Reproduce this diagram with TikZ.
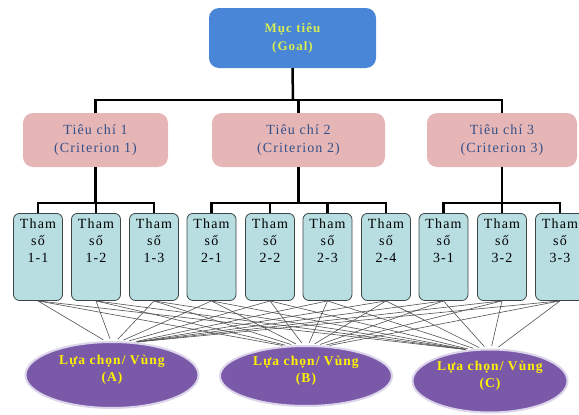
\documentclass[tikz,border=0pt]{standalone}
\usepackage{fontspec}
\setmainfont[LetterSpace=8]{Liberation Serif}
\usetikzlibrary{shapes.geometric}

\definecolor{goalfill}{HTML}{4A86D8}
\definecolor{goaltext}{HTML}{D6EC52}
\definecolor{critfill}{HTML}{E6B6B6}
\definecolor{crittext}{HTML}{34508A}
\definecolor{parfill}{HTML}{B8DEE2}
\definecolor{parline}{HTML}{3C4646}
\definecolor{optfill}{HTML}{7A5AA8}
\definecolor{optline}{HTML}{DCD4EA}
\definecolor{opttext}{HTML}{FFF200}
\definecolor{linkgray}{HTML}{505050}

% parameter label: three lines, with extra depth so the text sits at the top
\newcommand{\partext}[1]{Tham\\số\\#1\rule[-32.6pt]{0pt}{0pt}}

\begin{document}
\begin{tikzpicture}[x=1pt,y=-1pt,
  goalbox/.style={fill=goalfill,rounded corners=10pt,minimum width=167pt,
    minimum height=60pt,align=center,text=goaltext,
    font=\fontsize{13}{18}\selectfont\bfseries},
  critbox/.style={fill=critfill,rounded corners=10pt,minimum height=54pt,
    align=center,text=crittext,font=\fontsize{14}{18}\selectfont},
  parbox/.style={fill=parfill,draw=parline,line width=0.8pt,rounded corners=6pt,
    minimum width=49pt,inner xsep=1pt,inner ysep=5.4pt,anchor=north,
    align=center,font=\fontsize{14}{17}\selectfont},
  optbox/.style={ellipse,fill=optfill,draw=optline,line width=2pt,inner sep=0pt,
    align=center,text=opttext,font=\fontsize{13.5}{17}\selectfont\bfseries},
  tree/.style={line width=2.5pt,black},
  link/.style={linkgray,line width=0.6pt,shorten >=2.5pt}]

\useasboundingbox (0,0) rectangle (579,415);

% goal
\node[goalbox] (goal) at (292.5,38) {Mục tiêu\\(Goal)};

% criteria
\node[critbox,minimum width=145pt] (c1) at (95.5,140) {Tiêu chí 1\\(Criterion 1)};
\node[critbox,minimum width=173pt] (c2) at (298.5,140) {Tiêu chí 2\\(Criterion 2)};
\node[critbox,minimum width=150pt] (c3) at (502,140) {Tiêu chí 3\\(Criterion 3)};

% parameters
\node[parbox] (p11) at (38,213)  {\partext{1-1}};
\node[parbox] (p12) at (96,213)  {\partext{1-2}};
\node[parbox] (p13) at (154,213) {\partext{1-3}};
\node[parbox] (p21) at (211.5,213) {\partext{2-1}};
\node[parbox] (p22) at (270,213) {\partext{2-2}};
\node[parbox] (p23) at (327.5,213) {\partext{2-3}};
\node[parbox] (p24) at (386,213) {\partext{2-4}};
\node[parbox] (p31) at (443.5,213) {\partext{3-1}};
\node[parbox] (p32) at (502,213) {\partext{3-2}};
\node[parbox] (p33) at (560,213) {\partext{3-3}};

% options
\node[optbox,minimum width=173pt,minimum height=66pt] (ea) at (112,375)
  {Lựa chọn/ Vùng\\(A)\rule[-14pt]{0pt}{0pt}};
\node[optbox,minimum width=172pt,minimum height=60pt] (eb) at (306,376)
  {Lựa chọn/ Vùng\\(B)\rule[-14pt]{0pt}{0pt}};
\node[optbox,minimum width=155pt,minimum height=63pt] (ec) at (490,381)
  {Lựa chọn/ Vùng\\(C)\rule[-14pt]{0pt}{0pt}};

% goal to criteria
\coordinate (gbar) at (293,100);
\draw[tree] (goal.south) -- (gbar);
\draw[tree] (c1.north) |- (gbar) -| (c3.north);
\draw[tree] (c2.north) -- (c2.north |- gbar);

% criteria to parameters
\path (c1.south) ++(0,36) coordinate (b1);
\path (c2.south) ++(0,36) coordinate (b2);
\path (c3.south) ++(0,36) coordinate (b3);
\draw[tree] (c1.south) -- (b1);
\draw[tree] (p11.north) |- (b1) -| (p13.north);
\draw[tree] (p12.north) -- (p12.north |- b1);
\draw[tree] (c2.south) -- (b2);
\draw[tree] (p21.north) |- (b2) -| (p24.north);
\draw[tree] (p22.north) -- (p22.north |- b2);
\draw[tree] (p23.north) -- (p23.north |- b2);
\draw[tree] (c3.south) -- (p32.north);
\draw[tree] (p31.north) |- (b3) -| (p33.north);

% every parameter to every option; each link meets the option near its top,
% on the side facing the parameter
\foreach \p/\px in {p11/38,p12/96,p13/154,p21/211,p22/270,p23/328,p24/386,
                    p31/443,p32/502,p33/560}
  \foreach \e/\ex in {ea/112,eb/306,ec/490} {
    \pgfmathtruncatemacro{\ang}{max(55,min(125,90-(\px-\ex)*0.15))}
    \draw[link] (\p.south) -- (\e.\ang);
  }

\end{tikzpicture}
\end{document}
